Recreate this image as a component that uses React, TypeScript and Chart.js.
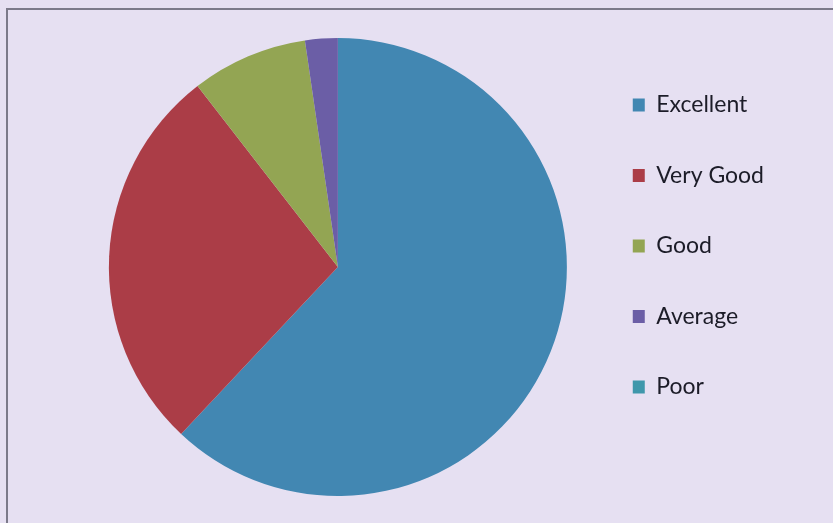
import React, { useEffect, useRef } from "react";
import { Chart, registerables } from "chart.js";

Chart.register(...registerables);

const categories: string[] = ["Excellent", "Very Good", "Good", "Average", "Poor"];
const values: number[] = [62, 27.5, 8.2, 2.3, 0];
const colors: string[] = ["#4287b2", "#ab3d47", "#93a553", "#6b5ea6", "#3f97ab"];

export default function App() {
  const ref = useRef<HTMLCanvasElement | null>(null);

  useEffect(() => {
    if (!ref.current) return;
    const chart = new Chart(ref.current, {
      type: "pie",
      data: {
        labels: categories,
        datasets: [
          {
            data: values,
            backgroundColor: colors,
            borderWidth: 0,
            radius: 229,
          },
        ],
      },
      options: {
        animation: false,
        responsive: true,
        maintainAspectRatio: false,
        layout: { padding: { top: 11, bottom: 0, left: 90.5, right: 59 } },
        plugins: {
          tooltip: { enabled: false },
          legend: {
            position: "right",
            align: "start",
            title: {
              display: true,
              text: "",
              font: { size: 10, lineHeight: 1.2 },
              padding: { top: 23, bottom: 0 },
            },
            labels: {
              boxWidth: 12,
              boxHeight: 13,
              padding: 47.5,
              color: "#1c1c28",
              font: { family: "Lato", size: 23 },
            },
          },
        },
      },
    });
    return () => chart.destroy();
  }, []);

  return (
    <div
      style={{
        position: "fixed",
        left: 0,
        top: 0,
        width: 833,
        height: 523,
        background: "#e6e0f2",
        overflow: "hidden",
      }}
    >
      <div
        style={{
          position: "absolute",
          left: 6,
          top: 8,
          width: 840,
          height: 530,
          borderTop: "2px solid #7c7a8a",
          borderLeft: "2px solid #7c7a8a",
        }}
      />
      <div style={{ position: "absolute", left: 0, top: 0, width: 833, height: 523 }}>
        <canvas ref={ref} />
      </div>
    </div>
  );
}
